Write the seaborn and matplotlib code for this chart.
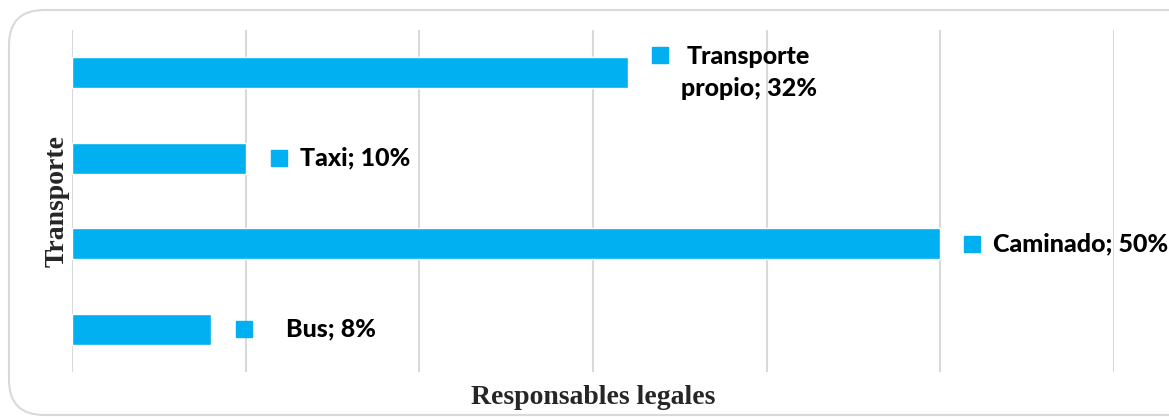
import matplotlib
matplotlib.use("Agg")
import matplotlib.pyplot as plt
from matplotlib.patches import FancyBboxPatch
from matplotlib.transforms import offset_copy
import seaborn as sns
import pandas as pd

# Transport modes and their share (%)
categorias = ["Transporte propio", "Taxi", "Caminado", "Bus"]
porcentajes = [32, 10, 50, 8]
etiquetas = ["Transporte\npropio; 32%", "Taxi; 10%", "Caminado; 50%", "Bus; 8%"]

COLOR = "#00B0F0"
GRID = "#D9D9D9"

sns.set_theme(style="white")
plt.rcParams["font.family"] = ["DejaVu Sans"]

df = pd.DataFrame({"cat": categorias, "val": porcentajes})

fig = plt.figure(figsize=(11.69, 4.17), dpi=100)
ax = fig.add_axes([72 / 1169, 1 - 372 / 417, (1114 - 72) / 1169, (372 - 30) / 417])

sns.barplot(data=df, x="val", y="cat", orient="h", color=COLOR, width=0.365,
            saturation=1, ax=ax, order=categorias)

ax.set_xlim(0, 60)
ax.set_ylim(3.5, -0.5)
ax.set_xticks(range(0, 61, 10))
ax.set_xticklabels([])
ax.set_yticks([])
ax.tick_params(length=0)
ax.grid(axis="x", color=GRID, linewidth=1.5)
ax.set_axisbelow(True)
for s in ax.spines.values():
    s.set_visible(False)

serif = ["Liberation Serif", "DejaVu Serif"]
ax.set_xlabel("Responsables legales", fontsize=20, fontweight="bold",
              family=serif, labelpad=6)
ax.set_ylabel("Transporte", fontsize=20, fontweight="bold",
              family=serif, labelpad=2)

# Data labels: legend-key square followed by bold text
# (marker dx, marker dy, text dx, text dy, text alignment) in pixels
ubicacion = {
    "Transporte propio": (32, 18, 89, 18, "center"),
    "Taxi": (33, 0, 21, 0, "left"),
    "Caminado": (32, 0, 21, 0, "left"),
    "Bus": (33, 0, 42, 0, "left"),
}
lab_font = ["Lato", "DejaVu Sans"]
for i, (cat, val, txt) in enumerate(zip(categorias, porcentajes, etiquetas)):
    mdx, mdy, tdx, tdy, ha = ubicacion[cat]
    mtr = offset_copy(ax.transData, fig=fig, x=mdx, y=mdy, units="dots")
    ax.plot([val], [i], marker="s", markersize=11, color=COLOR, linestyle="none",
            transform=mtr, clip_on=False)
    ttr = offset_copy(ax.transData, fig=fig, x=mdx + tdx, y=mdy - tdy, units="dots")
    ax.text(val, i, txt, transform=ttr, ha=ha, va="center", fontsize=18,
            fontweight="black", family=lab_font, color="black", clip_on=False,
            linespacing=1.45)

# Rounded chart frame
frame = FancyBboxPatch((9 / 1169, 2 / 417), 1.2, 1 - 12 / 417,
                       boxstyle="round,pad=0,rounding_size=0.03",
                       transform=fig.transFigure, facecolor="none",
                       edgecolor=GRID, linewidth=1.5, zorder=-1,
                       mutation_aspect=1169 / 417)
fig.patches.append(frame)

fig.savefig("out.png", dpi=100)
